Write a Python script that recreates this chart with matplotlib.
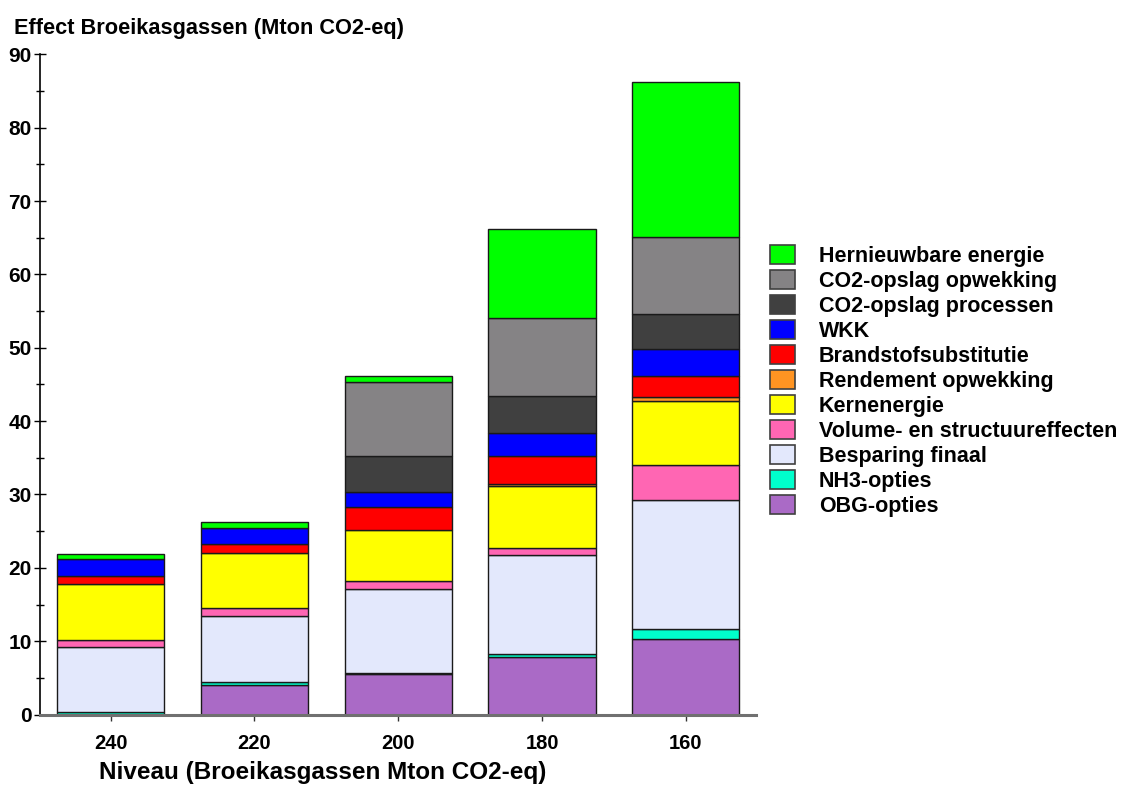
import numpy as np
import matplotlib
matplotlib.use('Agg')
import matplotlib.pyplot as plt
from matplotlib.patches import Patch
from matplotlib.ticker import MultipleLocator

plt.rcParams['font.family'] = ['Liberation Sans', 'DejaVu Sans']
plt.rcParams['font.weight'] = 'bold'

# ── data (Mton CO2-eq per niveau) ─────────────
levels = ['240', '220', '200', '180', '160']

obg_opties      = [0.0, 4.1, 5.55, 7.85, 10.35]
nh3_opties      = [0.35, 0.4, 0.1, 0.35, 1.35]
besparing       = [8.85, 8.9, 11.5, 13.5, 17.6]
volume_struct   = [1.0, 1.15, 1.1, 1.05, 4.7]
kernenergie     = [7.55, 7.45, 6.95, 8.4, 8.7]
rendement       = [0.0, 0.0, 0.0, 0.3, 0.6]
brandstof       = [1.1, 1.2, 3.05, 3.85, 2.8]
wkk             = [2.4, 2.25, 2.15, 3.15, 3.75]
co2_processen   = [0.0, 0.0, 4.9, 4.95, 4.8]
co2_opwekking   = [0.0, 0.0, 10.1, 10.65, 10.45]
hernieuwbaar    = [0.6, 0.75, 0.8, 12.1, 21.15]

series = [
    ('OBG-opties',                obg_opties,    '#AA6AC6'),
    ('NH3-opties',                nh3_opties,    '#00FFCC'),
    ('Besparing finaal',          besparing,     '#E3E8FC'),
    ('Volume- en structuureffecten', volume_struct, '#FF66B3'),
    ('Kernenergie',               kernenergie,   '#FFFF00'),
    ('Rendement opwekking',       rendement,     '#FF9422'),
    ('Brandstofsubstitutie',      brandstof,     '#FF0000'),
    ('WKK',                       wkk,           '#0000FF'),
    ('CO2-opslag processen',      co2_processen, '#404040'),
    ('CO2-opslag opwekking',      co2_opwekking, '#858385'),
    ('Hernieuwbare energie',      hernieuwbaar,  '#00FF00'),
]

fig = plt.figure(figsize=(11.28, 7.87), dpi=100)
ax = fig.add_axes([0.0355, 0.092, 0.635, 0.839])

x = np.arange(len(levels))
bottom = np.zeros(len(levels))
handles = []
for name, vals, col in series:
    vals = np.array(vals)
    m = vals > 0
    ax.bar(x[m], vals[m], bottom=bottom[m], width=0.745, color=col,
           edgecolor='#1a1a1a', linewidth=1.0, zorder=2)
    bottom += vals
    handles.append(Patch(facecolor=col, edgecolor='#404040', linewidth=1.2, label=name))

ax.set_xlim(-0.49, 4.49)
ax.set_ylim(0, 90)
ax.set_xticks(x)
ax.set_xticklabels(levels, fontsize=14.5, fontweight='bold')
ax.yaxis.set_major_locator(MultipleLocator(10))
ax.yaxis.set_minor_locator(MultipleLocator(5))
ax.tick_params(axis='y', which='major', direction='inout', length=8, width=1,
               labelsize=15, pad=2)
ax.tick_params(axis='y', which='minor', direction='inout', length=6, width=1)
ax.tick_params(axis='x', which='major', direction='out', length=4, width=1,
               color='#333333', pad=10)
for lab in ax.get_yticklabels():
    lab.set_fontweight('bold')

ax.spines[['top', 'right']].set_visible(False)
ax.spines['left'].set_color('black')
ax.spines['left'].set_linewidth(1.2)
ax.spines['bottom'].set_color('#707070')
ax.spines['bottom'].set_linewidth(2.2)

fig.text(0.012, 0.964, 'Effect Broeikasgassen (Mton CO2-eq)', fontsize=15.7,
         fontweight='bold', ha='left', va='center')
fig.text(0.286, 0.004, 'Niveau (Broeikasgassen Mton CO2-eq)', fontsize=17.5,
         fontweight='bold', ha='center', va='bottom')

leg = fig.legend(handles=handles[::-1], loc='upper left',
                 bbox_to_anchor=(0.6826, 0.689), frameon=False,
                 fontsize=15.5, handlelength=1.15, handleheight=1.0,
                 handletextpad=1.12, labelspacing=0.14, borderaxespad=0,
                 borderpad=0)
for t in leg.get_texts():
    t.set_fontweight('bold')

fig.savefig('out.png', dpi=100)
